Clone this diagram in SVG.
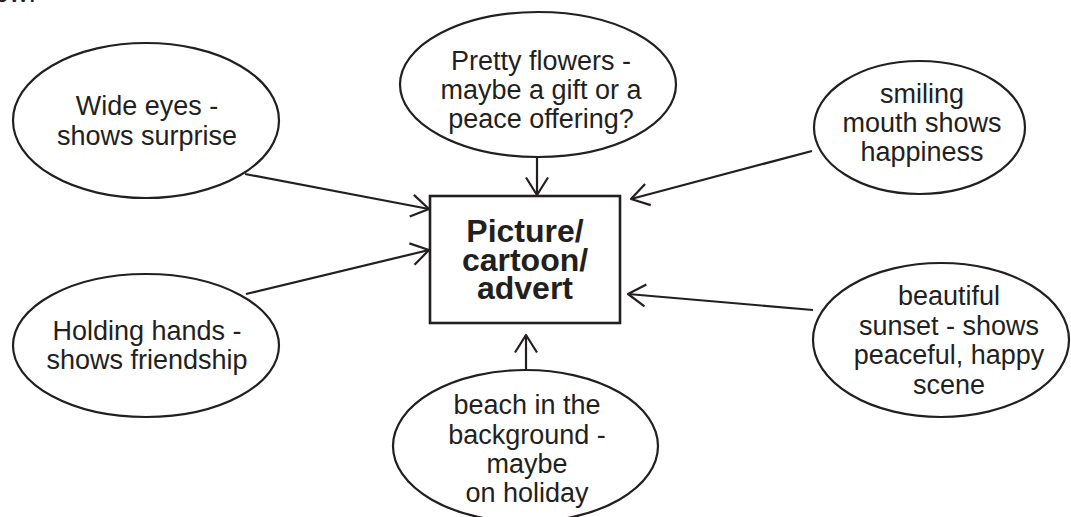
<svg xmlns="http://www.w3.org/2000/svg" width="1071" height="517" viewBox="0 0 1071 517">
  <defs>
    <style>
      .bubble { fill: #ffffff; stroke: #231f20; stroke-width: 2.2; }
      .box { fill: #ffffff; stroke: #231f20; stroke-width: 2.6; }
      .label { font-family: "Liberation Sans", Arial, sans-serif; font-size: 27px; fill: #231f20; text-anchor: middle; }
      .title { font-family: "Liberation Sans", Arial, sans-serif; font-size: 32px; font-weight: bold; fill: #231f20; text-anchor: middle; }
      .link { fill: none; stroke: #231f20; stroke-width: 2.2; marker-end: url(#open-arrow); }
    </style>
    <!-- open V arrowhead, tip at the end of the line -->
    <marker id="open-arrow" viewBox="-22 -14 26 28" refX="0" refY="0" markerWidth="26" markerHeight="28" markerUnits="userSpaceOnUse" orient="auto">
      <path d="M-17.5,-11 L0,0 L-17.5,11" fill="none" stroke="#231f20" stroke-width="2.2" stroke-linejoin="round" stroke-linecap="butt"/>
    </marker>
  </defs>

  <rect x="0" y="0" width="1071" height="517" fill="#ffffff"/>

  <!-- tail of the heading line above -->
  <text class="label" x="-6" y="2" style="text-anchor: start">ow:</text>

  <!-- connectors -->
  <g id="connectors">
    <line class="link" x1="245" y1="174" x2="429" y2="209"/>
    <line class="link" x1="246" y1="294" x2="429" y2="250"/>
    <line class="link" x1="537" y1="157" x2="537" y2="195"/>
    <line class="link" x1="812" y1="151" x2="631" y2="199"/>
    <line class="link" x1="813" y1="310" x2="628" y2="294"/>
    <line class="link" x1="526" y1="370" x2="526" y2="335"/>
  </g>

  <!-- central box -->
  <g id="centre">
    <rect class="box" x="430" y="196" width="190" height="127"/>
    <text class="title" x="525" y="242">Picture/</text>
    <text class="title" x="525" y="270.5">cartoon/</text>
    <text class="title" x="525" y="299">advert</text>
  </g>

  <g id="wide-eyes">
    <ellipse class="bubble" cx="146" cy="120.5" rx="133" ry="77.5"/>
    <text class="label" x="147" y="115">Wide eyes -</text>
    <text class="label" x="147" y="145">shows surprise</text>
  </g>

  <g id="flowers">
    <ellipse class="bubble" cx="538" cy="84.5" rx="138" ry="72.5"/>
    <text class="label" x="541" y="70">Pretty flowers -</text>
    <text class="label" x="541" y="99">maybe a gift or a</text>
    <text class="label" x="541" y="128">peace offering?</text>
  </g>

  <g id="smiling">
    <ellipse class="bubble" cx="919.5" cy="127.5" rx="105.5" ry="66.5"/>
    <text class="label" x="922" y="103">smiling</text>
    <text class="label" x="922" y="132">mouth shows</text>
    <text class="label" x="922" y="161">happiness</text>
  </g>

  <g id="holding-hands">
    <ellipse class="bubble" cx="146" cy="345.5" rx="133" ry="71.5"/>
    <text class="label" x="147" y="340">Holding hands -</text>
    <text class="label" x="147" y="369">shows friendship</text>
  </g>

  <g id="sunset">
    <ellipse class="bubble" cx="941" cy="340" rx="128" ry="77"/>
    <text class="label" x="949" y="305">beautiful</text>
    <text class="label" x="949" y="334.5">sunset - shows</text>
    <text class="label" x="949" y="364">peaceful, happy</text>
    <text class="label" x="949" y="393.5">scene</text>
  </g>

  <g id="beach">
    <ellipse class="bubble" cx="525.5" cy="446" rx="132.5" ry="76"/>
    <text class="label" x="527" y="414">beach in the</text>
    <text class="label" x="527" y="444">background -</text>
    <text class="label" x="527" y="473">maybe</text>
    <text class="label" x="527" y="502">on holiday</text>
  </g>
</svg>
